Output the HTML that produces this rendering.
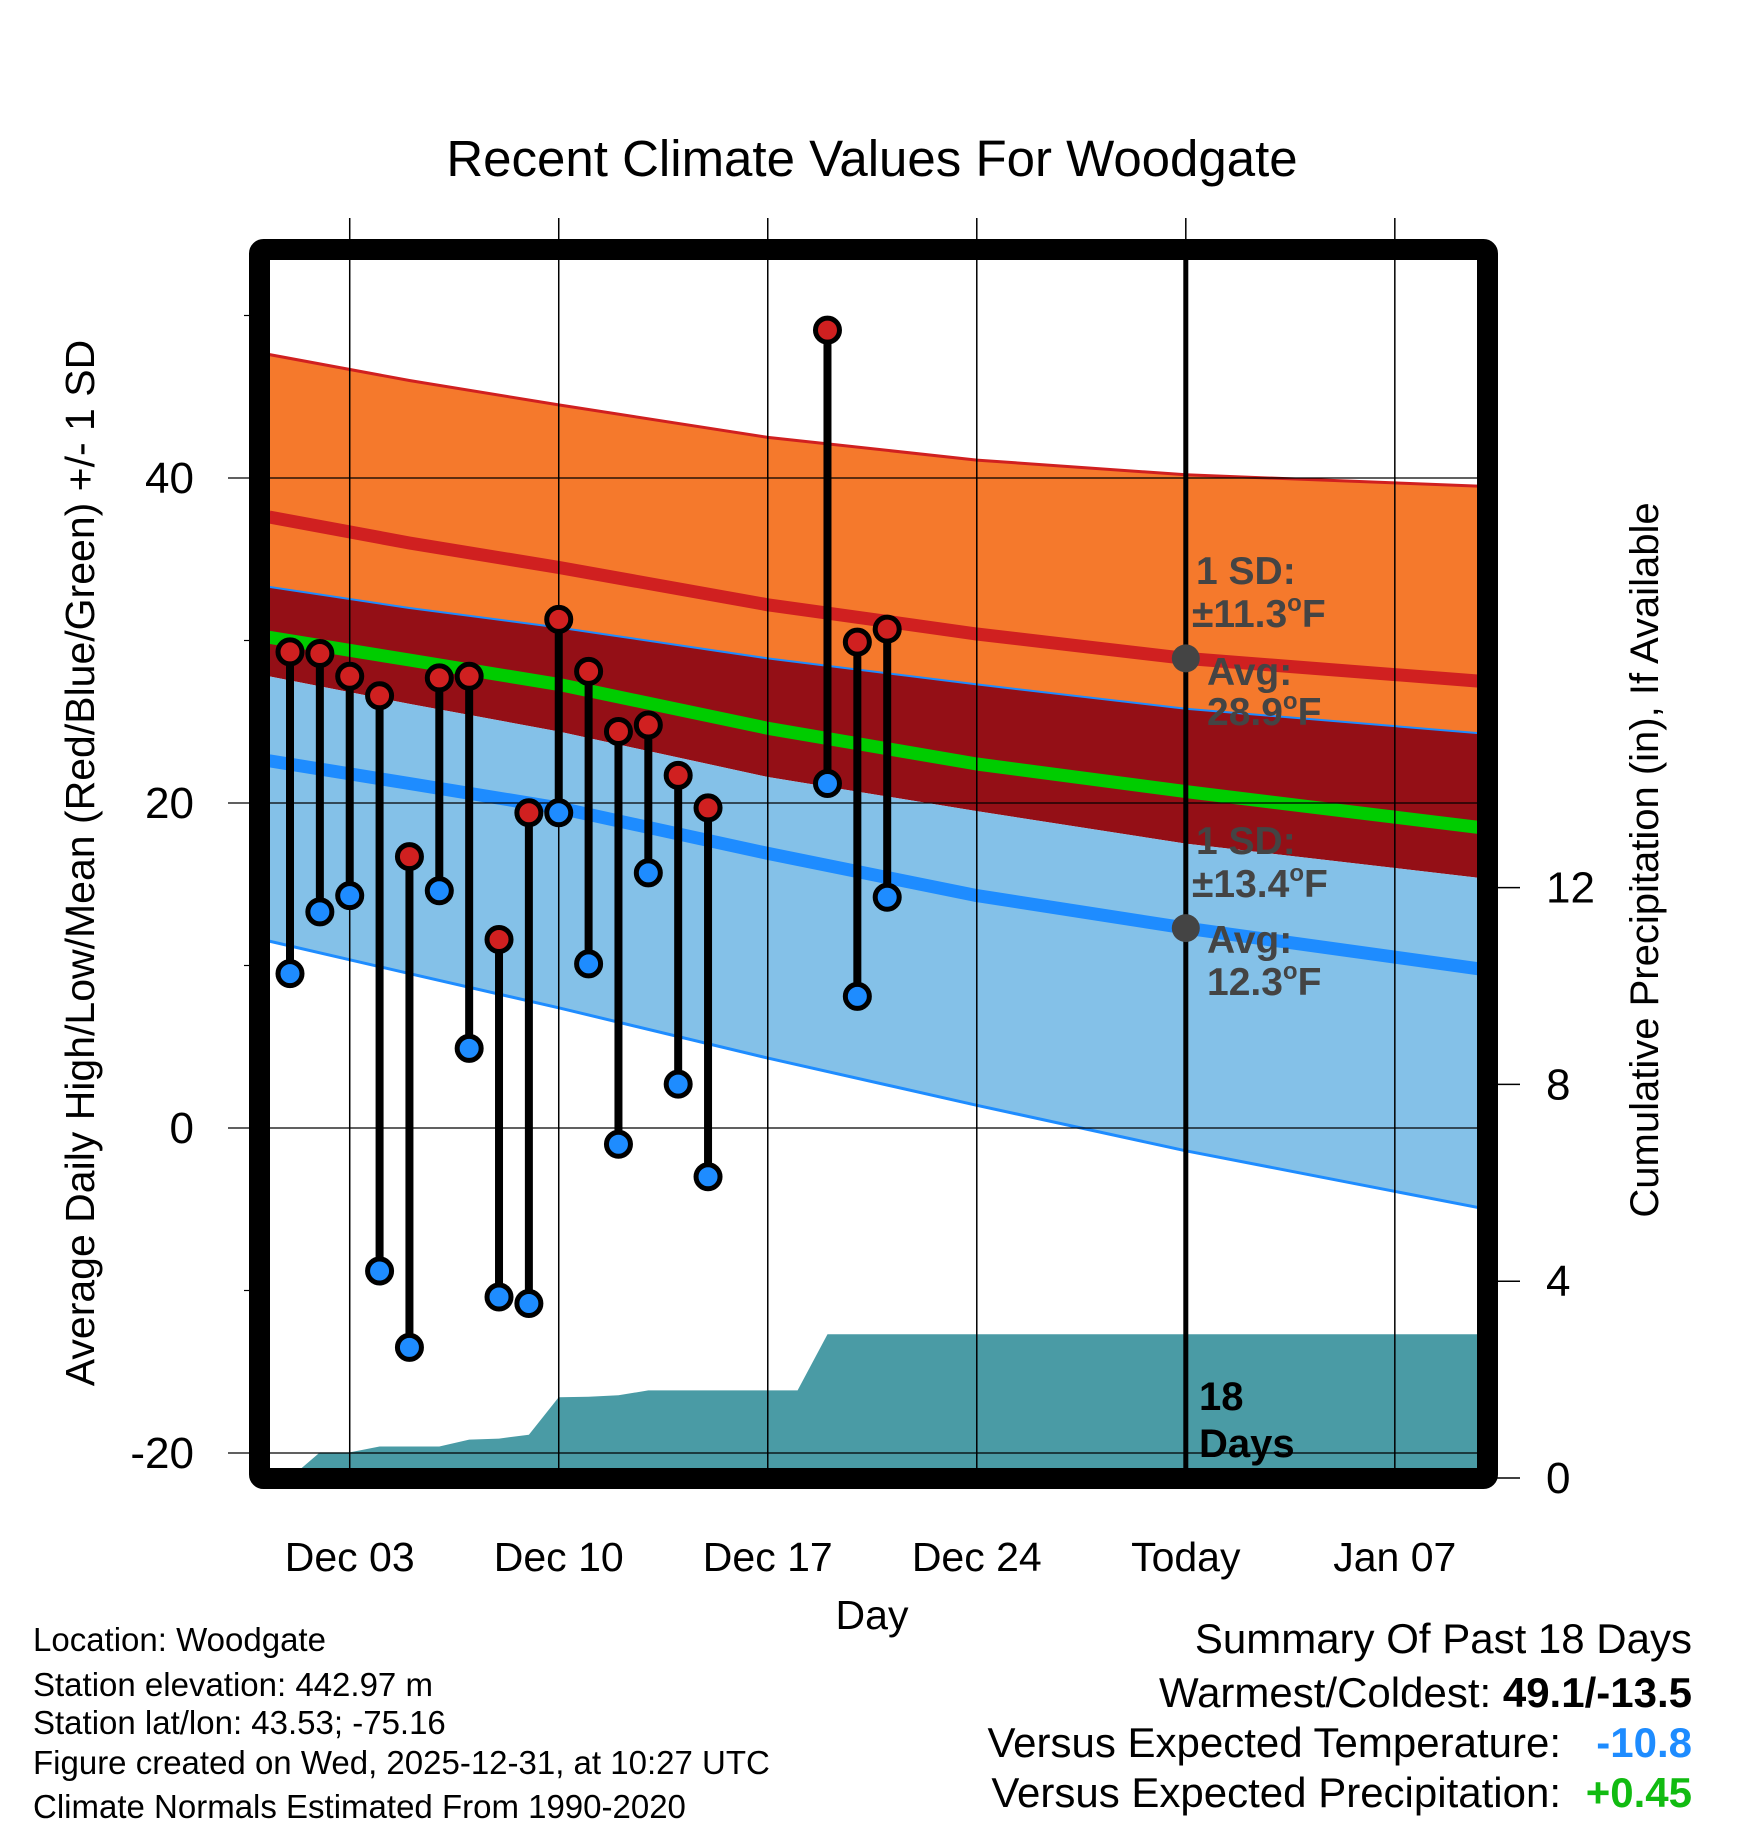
<!DOCTYPE html>
<html><head><meta charset="utf-8"><style>
html,body{margin:0;padding:0;background:#fff;width:1748px;height:1828px;overflow:hidden}
svg{display:block;font-family:"Liberation Sans",sans-serif}
</style></head><body>
<svg id="chart" xmlns="http://www.w3.org/2000/svg" width="1748" height="1828" viewBox="0 0 1748 1828">
<text x="872" y="176" font-size="51" text-anchor="middle">Recent Climate Values For Woodgate</text>
<g id="plot"></g>
<text transform="translate(94,863) rotate(-90)" font-size="41" text-anchor="middle">Average Daily High/Low/Mean (Red/Blue/Green) +/- 1 SD</text>
<text transform="translate(1658,860) rotate(-90)" font-size="40" text-anchor="middle">Cumulative Precipitation (in), If Available</text>
<text x="872" y="1629" font-size="41" text-anchor="middle">Day</text>
<g font-size="33">
<text x="33" y="1651">Location: Woodgate</text>
<text x="33" y="1696">Station elevation: 442.97 m</text>
<text x="33" y="1734">Station lat/lon: 43.53; -75.16</text>
<text x="33" y="1774">Figure created on Wed, 2025-12-31, at 10:27 UTC</text>
<text x="33" y="1818">Climate Normals Estimated From 1990-2020</text>
</g>
<g font-size="42">
<text x="1692" y="1653" text-anchor="end">Summary Of Past 18 Days</text>
<text x="1692" y="1707" text-anchor="end">Warmest/Coldest: <tspan font-weight="bold">49.1/-13.5</tspan></text>
<text x="1561" y="1757" text-anchor="end">Versus Expected Temperature:</text>
<text x="1692" y="1757" text-anchor="end" font-weight="bold" fill="#1e8cff">-10.8</text>
<text x="1561" y="1807" text-anchor="end">Versus Expected Precipitation:</text>
<text x="1692" y="1807" text-anchor="end" font-weight="bold" fill="#11bb11">+0.45</text>
</g>
</svg>
<script>
// day index: 0 = Dec 01
const obsDays=[0,1,2,3,4,5,6,7,8,9,10,11,12,13,14,18,19,20];
const highs=[29.3,29.2,27.8,26.6,16.7,27.7,27.8,11.6,19.4,31.3,28.1,24.4,24.8,21.7,19.7,49.1,29.9,30.7];
const lows=[9.5,13.3,14.3,-8.8,-13.5,14.6,4.9,-10.4,-10.8,19.4,10.1,-1.0,15.7,2.7,-3.0,21.2,8.1,14.2];
const normDays=[-0.7,4,9,16,23,30,39.8];
const highPlus=[47.6,46.0,44.5,42.5,41.1,40.2,39.5];
const highAvg=[37.6,36.0,34.5,32.2,30.4,28.9,27.5];
const highMinus=[33.3,32.0,30.8,28.9,27.3,25.8,24.3];
const meanAvg=[30.2,28.8,27.3,24.6,22.4,20.7,18.5];
const lowPlus=[27.8,26.1,24.4,21.6,19.5,17.5,15.4];
const lowAvg=[22.6,21.2,19.7,16.9,14.3,12.3,9.8];
const lowMinus=[11.5,9.5,7.4,4.3,1.4,-1.4,-4.9];
const precipDays=[-0.7,0,1,2,3,4,5,6,7,8,9,10,11,12,13,17,18,39.8];
const precipCum=[0,0,0.52,0.52,0.64,0.64,0.64,0.78,0.80,0.88,1.64,1.65,1.68,1.78,1.78,1.78,2.92,2.92];
const xTickDays=[2,9,16,23,30,37];
const xTickLabels=["Dec 03","Dec 10","Dec 17","Dec 24","Today","Jan 07"];
const yTicks=[40,20,0,-20];
const yMinor=[50,30,10,-10];
const pTicks=[0,4,8,12];

const NS="http://www.w3.org/2000/svg";
const X=d=>290+d*29.86;
const Y=v=>1128-v*16.25;
const P=p=>1478-p*49.2;
const L=270,R=1478,T=260,B=1469;
const g=document.getElementById('plot');
function el(tag,attrs,parent){const e=document.createElementNS(NS,tag);for(const k in attrs)e.setAttribute(k,attrs[k]);(parent||g).appendChild(e);return e;}
function pts(ds,vs){return ds.map((d,i)=>X(d).toFixed(1)+','+Y(vs[i]).toFixed(1));}
function band(up,lo,fill,name){
  const e=el('polygon',{points:pts(normDays,up).concat(pts(normDays,lo).reverse()).join(' '),fill:fill});
  
  
}
function line(vs,stroke,w,name){
  const e=el('polyline',{points:pts(normDays,vs).join(' '),fill:'none',stroke:stroke,'stroke-width':w,'stroke-linejoin':'round'});
  
  
}
const clip=el('clipPath',{id:'pc'});el('rect',{x:L,y:T,width:R-L,height:B-T},clip);
const pg=el('g',{'clip-path':'url(#pc)'});
band(highPlus,highMinus,'#f5792c','high-sd-band');
band(highMinus,lowPlus,'#940f16','overlap-band');
band(lowPlus,lowMinus,'#84c1e8','low-sd-band');
line(highPlus,'#d02020',3,'high-plus-sd-line');
line(highMinus,'#1e8cff',2,'high-minus-sd-line');
line(lowMinus,'#1e8cff',3,'low-minus-sd-line');
line(highAvg,'#d02020',13,'high-avg-line');
line(meanAvg,'#00cc00',13,'mean-avg-line');
line(lowAvg,'#1e8cff',13,'low-avg-line');
const pp=precipDays.map((d,i)=>X(d).toFixed(1)+','+P(precipCum[i]).toFixed(1));
const pe=el('polygon',{points:pp.join(' ')+' '+X(39.8)+','+B+' '+X(-0.7)+','+B,fill:'#4a9ba5'});


Array.from(g.children).filter(c=>c.tagName==='polygon'||c.tagName==='polyline').forEach(c=>pg.appendChild(c));
xTickDays.forEach((d,i)=>{
  const ln=el('line',{x1:X(d),x2:X(d),y1:218,y2:B,stroke:'#000','stroke-width':1.5});
  
  
  const t=el('text',{x:X(d),y:1571,'font-size':41,'text-anchor':'middle'});
  t.textContent=xTickLabels[i];
  
  
});
yTicks.forEach(v=>{
  const ln=el('line',{x1:228,x2:R,y1:Y(v),y2:Y(v),stroke:'#000','stroke-width':1.2});
  
  
  const t=el('text',{x:194,y:Y(v)+15,'font-size':44,'text-anchor':'end'});
  t.textContent=v;
  
  
});
yMinor.forEach(v=>{
  const ln=el('line',{x1:244,x2:255,y1:Y(v),y2:Y(v),stroke:'#000','stroke-width':1.2});
  
  
});
pTicks.forEach(p=>{
  const ln=el('line',{x1:1490,x2:1520,y1:P(p),y2:P(p),stroke:'#000','stroke-width':1.5});
  
  
  const t=el('text',{x:1546,y:P(p)+15,'font-size':44});
  t.textContent=p;
  
  
});
const tl=el('line',{x1:X(30),x2:X(30),y1:T,y2:B,stroke:'#000','stroke-width':5});


obsDays.forEach((d,i)=>{
  const s=el('line',{x1:X(d),x2:X(d),y1:Y(highs[i]),y2:Y(lows[i]),stroke:'#000','stroke-width':8});
  
  
  const h=el('circle',{cx:X(d),cy:Y(highs[i]),r:12,fill:'#d02020',stroke:'#000','stroke-width':5});
  
  
  const l=el('circle',{cx:X(d),cy:Y(lows[i]),r:12,fill:'#1e8cff',stroke:'#000','stroke-width':5});
  
  
});
[28.9,12.3].forEach(v=>{
  const c=el('circle',{cx:X(30),cy:Y(v),r:14,fill:'#444'});
  
  
});
const ann=[["1 SD:",1196,584,""],["\u00b111.3",1192,627,"F"],["Avg:",1207,685,""],["28.9",1207,725,"F"],
["1 SD:",1196,854,""],["\u00b113.4",1192,897,"F"],["Avg:",1207,953,""],["12.3",1207,995,"F"]];
ann.forEach(a=>{
  const t=el('text',{x:a[1],y:a[2],'font-size':39,'font-weight':'bold',fill:'#444'});
  t.textContent=a[0];
  if(a[3]){
    const o=el('tspan',{'font-size':24,dy:-16},t);o.textContent='o';
    const f=el('tspan',{dy:16},t);f.textContent=a[3];
  }
  
  
});
[["18",1410],["Days",1457]].forEach(a=>{
  const t=el('text',{x:1199,y:a[1],'font-size':40,'font-weight':'bold',fill:'#000'});
  t.textContent=a[0];
  
  
});
const fr=el('rect',{x:259.5,y:249.5,width:1228,height:1229,fill:'none',stroke:'#000','stroke-width':21,rx:4});


</script>
</body></html>
